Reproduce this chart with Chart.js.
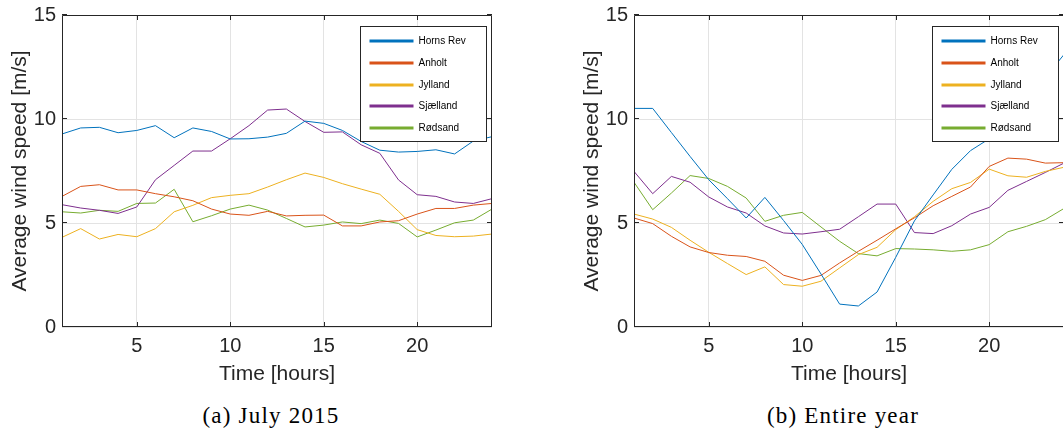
<!DOCTYPE html>
<html>
<head>
<meta charset="utf-8">
<script src="https://cdn.jsdelivr.net/npm/chart.js@4/dist/chart.umd.min.js"></script>
<style>
  html, body { margin: 0; padding: 0; background: #fff; }
  body { width: 1063px; height: 432px; overflow: hidden; position: relative; }
  canvas { position: absolute; top: 0; }
  #chartJuly { left: 0; }
  #chartYear { left: 572px; }
  .caption {
    position: absolute; top: 402px; width: 300px; text-align: center;
    font-family: "Liberation Serif", serif; font-size: 23px; letter-spacing: 1.2px;
    color: #000; line-height: 28px;
  }
</style>
</head>
<body>
<canvas id="chartJuly" width="531" height="400"></canvas>
<canvas id="chartYear" width="531" height="400"></canvas>
<div class="caption" style="left:121px">(a) July 2015</div>
<div class="caption" style="left:693px">(b) Entire year</div>
<script>
// Hour of day
const hours = [1, 2, 3, 4, 5, 6, 7, 8, 9, 10, 11, 12, 13, 14, 15, 16, 17, 18, 19, 20, 21, 22, 23, 24];
const xTickValues = [5, 10, 15, 20];
const yTickValues = [0, 5, 10, 15];
const siteNames = ['Horns Rev', 'Anholt', 'Jylland', 'Sjælland', 'Rødsand'];
const siteColors = ['#0072BD', '#D95319', '#EDB120', '#7E2F8E', '#77AC30'];

// Average wind speed [m/s], July 2015
const hornsRevJuly  = [9.28, 9.57, 9.60, 9.34, 9.45, 9.68, 9.10, 9.57, 9.40, 9.04, 9.05, 9.13, 9.31, 9.90, 9.79, 9.45, 8.92, 8.50, 8.41, 8.44, 8.52, 8.32, 8.94, 9.15];
const anholtJuly    = [6.28, 6.76, 6.84, 6.59, 6.59, 6.41, 6.26, 6.07, 5.67, 5.43, 5.37, 5.56, 5.34, 5.37, 5.38, 4.86, 4.86, 5.05, 5.11, 5.43, 5.70, 5.70, 5.86, 5.94];
const jyllandJuly   = [4.31, 4.73, 4.23, 4.45, 4.34, 4.73, 5.54, 5.85, 6.22, 6.33, 6.41, 6.73, 7.08, 7.40, 7.19, 6.89, 6.63, 6.38, 5.56, 4.68, 4.40, 4.34, 4.37, 4.47];
const sjaellandJuly = [5.88, 5.72, 5.61, 5.46, 5.77, 7.08, 7.77, 8.46, 8.46, 9.05, 9.68, 10.43, 10.48, 9.88, 9.36, 9.38, 8.76, 8.35, 7.07, 6.36, 6.28, 6.01, 5.94, 6.17];
const rodsandJuly   = [5.54, 5.48, 5.61, 5.56, 5.94, 5.96, 6.62, 5.06, 5.35, 5.67, 5.86, 5.62, 5.22, 4.81, 4.90, 5.05, 4.97, 5.14, 4.98, 4.33, 4.66, 5.01, 5.14, 5.67];

// Average wind speed [m/s], entire year
const hornsRevYear  = [10.51, 10.51, 9.35, 8.20, 7.08, 6.17, 5.24, 6.23, 5.12, 3.97, 2.55, 1.10, 1.01, 1.68, 3.35, 5.10, 6.35, 7.58, 8.48, 9.05, 10.00, 11.00, 12.00, 13.10];
const anholtYear    = [5.24, 4.97, 4.36, 3.85, 3.58, 3.45, 3.39, 3.16, 2.49, 2.24, 2.48, 3.08, 3.64, 4.17, 4.72, 5.25, 5.83, 6.28, 6.73, 7.72, 8.12, 8.07, 7.88, 7.90];
const jyllandYear   = [5.43, 5.19, 4.79, 4.17, 3.59, 3.05, 2.52, 2.89, 2.04, 1.96, 2.20, 2.84, 3.48, 3.83, 4.68, 5.30, 6.04, 6.65, 6.95, 7.59, 7.27, 7.20, 7.48, 7.68];
const sjaellandYear = [7.48, 6.41, 7.24, 6.96, 6.25, 5.77, 5.48, 4.86, 4.52, 4.47, 4.58, 4.70, 5.30, 5.91, 5.91, 4.54, 4.49, 4.87, 5.43, 5.75, 6.57, 7.00, 7.43, 7.88];
const rodsandYear   = [6.96, 5.64, 6.44, 7.28, 7.14, 6.76, 6.20, 5.08, 5.37, 5.51, 4.81, 4.12, 3.53, 3.42, 3.77, 3.75, 3.71, 3.64, 3.71, 3.96, 4.58, 4.84, 5.16, 5.70];

const AXIS_COLOR = '#262626';
const GRID_COLOR = '#e3e3e3';
const SANS = '"Liberation Sans", Arial, sans-serif';

// Box frame with inward ticks on all four sides, plus a boxed legend in the top-right corner
const framePlugin = {
  id: 'frameAndLegend',
  afterDraw(chart) {
    const ctx = chart.ctx;
    const {left, right, top, bottom} = chart.chartArea;
    const xs = chart.scales.x, ys = chart.scales.y;
    ctx.save();
    ctx.strokeStyle = AXIS_COLOR;
    ctx.lineWidth = 1;
    ctx.beginPath();
    ctx.rect(Math.round(left) + 0.5, Math.round(top) + 0.5, Math.round(right - left) - 1, Math.round(bottom - top) - 1);
    ctx.stroke();
    const tl = 5;
    ctx.beginPath();
    xTickValues.forEach(v => {
      const px = Math.round(xs.getPixelForValue(v)) + 0.5;
      ctx.moveTo(px, bottom); ctx.lineTo(px, bottom - tl);
      ctx.moveTo(px, top); ctx.lineTo(px, top + tl);
    });
    yTickValues.forEach(v => {
      const py = Math.round(ys.getPixelForValue(v)) - 0.5;
      ctx.moveTo(left, py); ctx.lineTo(left + tl, py);
      ctx.moveTo(right, py); ctx.lineTo(right - tl, py);
    });
    ctx.stroke();

    // legend
    const w = 126, h = 115;
    const x0 = Math.round(right - 6 - w) + 0.5;
    const y0 = Math.round(top + 11) + 0.5;
    ctx.fillStyle = '#fff';
    ctx.fillRect(x0, y0, w, h);
    ctx.strokeStyle = AXIS_COLOR;
    ctx.lineWidth = 1;
    ctx.strokeRect(x0, y0, w, h);
    ctx.font = '10px ' + SANS;
    ctx.textBaseline = 'middle';
    ctx.textAlign = 'left';
    chart.data.datasets.forEach((ds, i) => {
      const y = Math.round(y0 + 14.5 + i * 21.75);
      ctx.strokeStyle = ds.borderColor;
      ctx.lineWidth = 3;
      ctx.beginPath();
      ctx.moveTo(x0 + 9, y); ctx.lineTo(x0 + 53, y);
      ctx.stroke();
      ctx.fillStyle = '#000';
      ctx.fillText(ds.label, x0 + 58, y + 0.5);
    });
    ctx.restore();
  }
};

function makeChart(canvasId, series) {
  const datasets = series.map((vals, i) => ({
    label: siteNames[i],
    data: hours.map((h, k) => ({x: h, y: vals[k]})),
    borderColor: siteColors[i],
    backgroundColor: siteColors[i],
    borderWidth: 1,
    pointRadius: 0,
    tension: 0,
    fill: false
  }));
  return new Chart(document.getElementById(canvasId), {
    type: 'line',
    data: {datasets},
    options: {
      responsive: false,
      animation: false,
      events: [],
      layout: {padding: {top: 15, right: 39, left: 0, bottom: 0}},
      plugins: {legend: {display: false}, tooltip: {enabled: false}},
      scales: {
        x: {
          type: 'linear', min: 1, max: 24,
          afterBuildTicks: s => { s.ticks = xTickValues.map(v => ({value: v})); },
          afterFit: s => { s.height = 73; s.paddingLeft = 0; s.paddingRight = 0; },
          grid: {color: GRID_COLOR, drawTicks: false},
          border: {display: false},
          ticks: {font: {family: SANS, size: 20}, color: AXIS_COLOR, padding: 7, maxRotation: 0},
          title: {display: true, text: 'Time [hours]', color: AXIS_COLOR,
                  font: {family: SANS, size: 21}, padding: {top: 0, bottom: 13.4}}
        },
        y: {
          min: 0, max: 15,
          afterBuildTicks: s => { s.ticks = yTickValues.map(v => ({value: v})); },
          afterFit: s => { s.width = 62; s.paddingTop = 0; s.paddingBottom = 0; },
          grid: {color: GRID_COLOR, drawTicks: false},
          border: {display: false},
          ticks: {font: {family: SANS, size: 20}, color: AXIS_COLOR, padding: 6},
          title: {display: true, text: 'Average wind speed [m/s]', color: AXIS_COLOR,
                  font: {family: SANS, size: 21}, padding: {top: 7.4, bottom: 0}}
        }
      }
    },
    plugins: [framePlugin]
  });
}

makeChart('chartJuly', [hornsRevJuly, anholtJuly, jyllandJuly, sjaellandJuly, rodsandJuly]);
makeChart('chartYear', [hornsRevYear, anholtYear, jyllandYear, sjaellandYear, rodsandYear]);
</script>
</body>
</html>
